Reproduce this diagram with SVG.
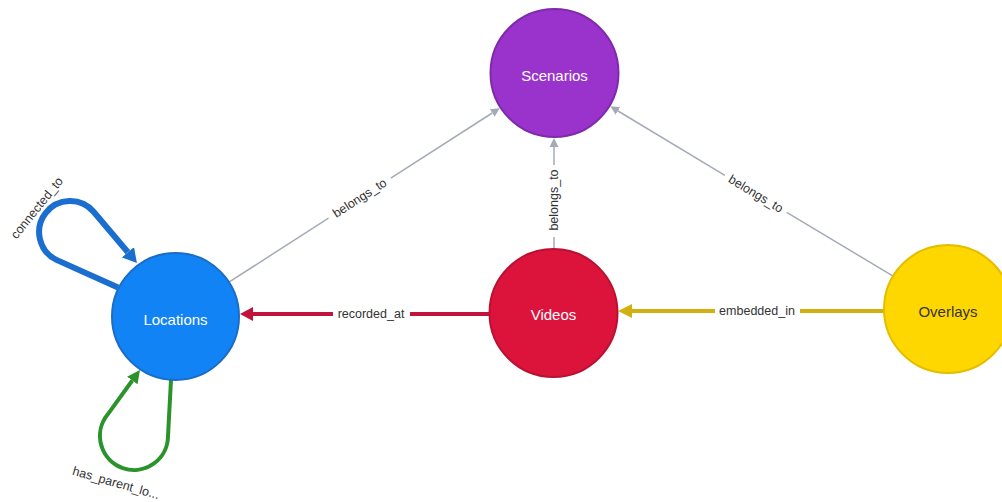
<svg xmlns="http://www.w3.org/2000/svg" width="1002" height="502" viewBox="0 0 1002 502">
<style>
.node circle{stroke-width:2}
.nlabel{font-family:"Liberation Sans",Arial,sans-serif;font-size:15px;text-anchor:middle;dominant-baseline:central}
.elabel{font-family:"Liberation Sans",Arial,sans-serif;font-size:12.5px;fill:#333;text-anchor:middle;dominant-baseline:central}
.gray{stroke:#A5ABB6;stroke-width:1.5;fill:none}
.red{stroke:#C2143A;stroke-width:4;fill:none}
.gold{stroke:#D2B010;stroke-width:4;fill:none}
.blue{stroke:#1A6ED0;stroke-width:6;fill:none}
.green{stroke:#2B932B;stroke-width:4;fill:none}
</style>
<defs>
<marker id="aGray" markerUnits="userSpaceOnUse" markerWidth="10" markerHeight="10" refX="0" refY="4.5" orient="auto"><path d="M0,0 L9,4.5 L0,9 z" fill="#A5ABB6"/></marker>
<marker id="aRed" markerUnits="userSpaceOnUse" markerWidth="14" markerHeight="15" refX="0" refY="7" orient="auto"><path d="M0,0 L13,7 L0,14 z" fill="#C2143A"/></marker>
<marker id="aGold" markerUnits="userSpaceOnUse" markerWidth="15" markerHeight="15" refX="0" refY="7" orient="auto"><path d="M0,0 L14,7 L0,14 z" fill="#D2B010"/></marker>
<marker id="aBlue" markerUnits="userSpaceOnUse" markerWidth="15" markerHeight="16" refX="0" refY="8" orient="auto"><path d="M0,0 L14,8 L0,16 z" fill="#1A6ED0"/></marker>
<marker id="aGreen" markerUnits="userSpaceOnUse" markerWidth="14" markerHeight="14" refX="0" refY="6.5" orient="auto"><path d="M0,0 L13,6.5 L0,13 z" fill="#2B932B"/></marker>
</defs>
<rect width="1002" height="502" fill="#FFFFFF"/>
<g id="connectors">
<g id="e-loc-scen">
<line class="gray" x1="229.3" y1="281.9" x2="328.5" y2="218.2"/>
<line class="gray" x1="390.8" y1="178.2" x2="492.2" y2="113.0" marker-end="url(#aGray)"/>
<text class="elabel" transform="rotate(-32.7 359.8 198.1)" x="359.8" y="198.1">belongs_to</text>
</g>
<g id="e-vid-scen">
<line class="gray" x1="554" y1="248.5" x2="554" y2="237"/>
<line class="gray" x1="554" y1="165" x2="554" y2="147" marker-end="url(#aGray)"/>
<text class="elabel" transform="rotate(-90 554 200)" x="554" y="200">belongs_to</text>
</g>
<g id="e-ovl-scen">
<line class="gray" x1="893.1" y1="276.1" x2="786.7" y2="212.4"/>
<line class="gray" x1="724.9" y1="175.4" x2="618.0" y2="111.0" marker-end="url(#aGray)"/>
<text class="elabel" transform="rotate(31 755.8 193.9)" x="755.8" y="193.9">belongs_to</text>
</g>
<g id="e-vid-loc">
<line class="red" x1="490" y1="314" x2="410" y2="314"/>
<line class="red" x1="333" y1="314" x2="253" y2="314" marker-end="url(#aRed)"/>
<text class="elabel" x="371" y="314">recorded_at</text>
</g>
<g id="e-ovl-vid">
<line class="gold" x1="885" y1="311" x2="800" y2="311"/>
<line class="gold" x1="715" y1="311" x2="632" y2="311" marker-end="url(#aGold)"/>
<text class="elabel" x="757" y="311">embedded_in</text>
</g>
<g id="e-loc-loc-connected">
<path class="blue" d="M118,287.5 L56.5,259.9 A31,31 0 1 1 93.6,211.8 L127.9,252.3" marker-end="url(#aBlue)"/>
<text class="elabel" transform="rotate(-51 37 208)" x="37" y="208">connected_to</text>
</g>
<g id="e-loc-loc-parent">
<path class="green" d="M171,380 L168,436 A34,34 0 1 1 107.4,414.8 L132.3,380.5" marker-end="url(#aGreen)"/>
<text class="elabel" transform="rotate(16 116 483)" x="116" y="483">has_parent_lo...</text>
</g>
</g>
<g id="node-locations" class="node">
<circle cx="175.5" cy="316.5" r="63.5" fill="#1283F5" stroke="#1B6CC6"/>
<text class="nlabel" x="175.5" y="319" fill="#FFFFFF">Locations</text>
</g>
<g id="node-scenarios" class="node">
<circle cx="554.5" cy="73" r="64" fill="#9933CC" stroke="#7F2AAA"/>
<text class="nlabel" x="554.5" y="75" fill="#FFFFFF">Scenarios</text>
</g>
<g id="node-videos" class="node">
<circle cx="553.5" cy="313" r="64" fill="#DC143C" stroke="#BA1133"/>
<text class="nlabel" x="553.5" y="314.5" fill="#FFFFFF">Videos</text>
</g>
<g id="node-overlays" class="node">
<circle cx="948" cy="309" r="64" fill="#FFD700" stroke="#E3BE00"/>
<text class="nlabel" x="948" y="311.5" fill="#333333">Overlays</text>
</g>
</svg>
